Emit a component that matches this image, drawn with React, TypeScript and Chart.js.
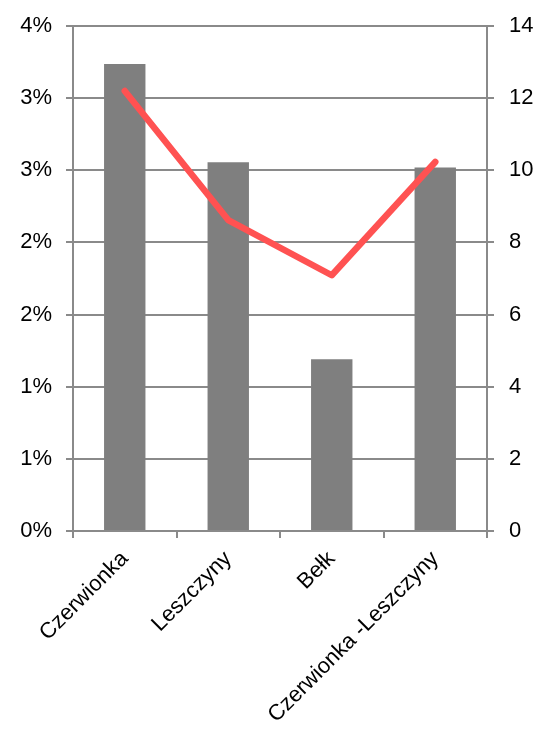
import React, { useEffect, useRef } from "react";
import { Chart, registerables } from "chart.js";

Chart.register(...registerables);

const categories = ["Czerwionka", "Leszczyny", "Bełk", "Czerwionka -Leszczyny"];
const barValues = [3.7, 2.92, 1.36, 2.88]; // percent, left axis
const lineValues = [12.2, 8.62, 7.09, 10.23]; // right axis
const leftMax = 4;
const leftSteps = 7;
const rightMax = 14;
const rightStep = 2;

const FONT = { family: "'Liberation Sans', Arial, sans-serif", size: 22 };
const GRID = "#8a8a8a";
const TEXT = "#000000";

export default function App() {
  const ref = useRef<HTMLCanvasElement | null>(null);
  useEffect(() => {
    const ctx = ref.current!;
    const chart = new Chart(ctx, {
      data: {
        labels: categories,
        datasets: [
          {
            type: "line",
            data: lineValues,
            yAxisID: "y2",
            borderColor: "#ff5252",
            borderWidth: 6.5,
            pointRadius: 0,
            borderCapStyle: "round",
            borderJoinStyle: "round",
            tension: 0,
            order: 0,
          } as any,
          {
            type: "bar",
            data: barValues,
            yAxisID: "y",
            backgroundColor: "#7f7f7f",
            borderWidth: 0,
            categoryPercentage: 0.4,
            barPercentage: 1,
            order: 1,
          } as any,
        ],
      },
      options: {
        animation: false,
        responsive: false,
        maintainAspectRatio: false,
        layout: { padding: { top: 26, left: 0, right: 0, bottom: 0 } },
        plugins: { legend: { display: false }, tooltip: { enabled: false } },
        scales: {
          x: {
            type: "category",
            offset: true,
            grid: {
              offset: true,
              drawOnChartArea: false,
              drawTicks: true,
              tickLength: 7,
              color: GRID,
              lineWidth: 2,
            },
            border: { display: true, color: GRID, width: 2 },
            ticks: {
              font: FONT,
              color: TEXT,
              minRotation: 45,
              maxRotation: 45,
              autoSkip: false,
              padding: 8,
            },
            afterFit: (s: any) => {
              s.height = 734 - 531;
              s.paddingLeft = 0;
              s.paddingRight = 0;
            },
          },
          y: {
            type: "linear",
            position: "left",
            min: 0,
            max: leftMax,
            afterBuildTicks: (s: any) => {
              const t = [];
              for (let i = 0; i <= leftSteps; i++) t.push({ value: (leftMax * i) / leftSteps });
              s.ticks = t;
            },
            grid: { color: GRID, lineWidth: 2, tickLength: 7 },
            border: { display: true, color: GRID, width: 2 },
            ticks: {
              font: FONT,
              color: TEXT,
              padding: 14,
              callback: (v: any) => Math.round(Number(v)).toFixed(0) + "%",
            },
            afterFit: (s: any) => {
              s.width = 73;
              s.paddingTop = 12;
              s.paddingBottom = 12;
            },
          },
          y2: {
            type: "linear",
            position: "right",
            min: 0,
            max: rightMax,
            ticks: { stepSize: rightStep, font: FONT, color: TEXT, padding: 15 },
            grid: { drawOnChartArea: false, color: GRID, lineWidth: 2, tickLength: 7 },
            border: { display: true, color: GRID, width: 2 },
            afterFit: (s: any) => {
              s.width = 538 - 487;
              s.paddingTop = 12;
              s.paddingBottom = 12;
            },
          },
        },
      },
    });
    return () => chart.destroy();
  }, []);
  return (
    <div style={{ position: "absolute", left: 0, top: 0, width: 538, height: 734, background: "#fff" }}>
      <canvas ref={ref} width={538} height={734} style={{ width: 538, height: 734 }} />
    </div>
  );
}
